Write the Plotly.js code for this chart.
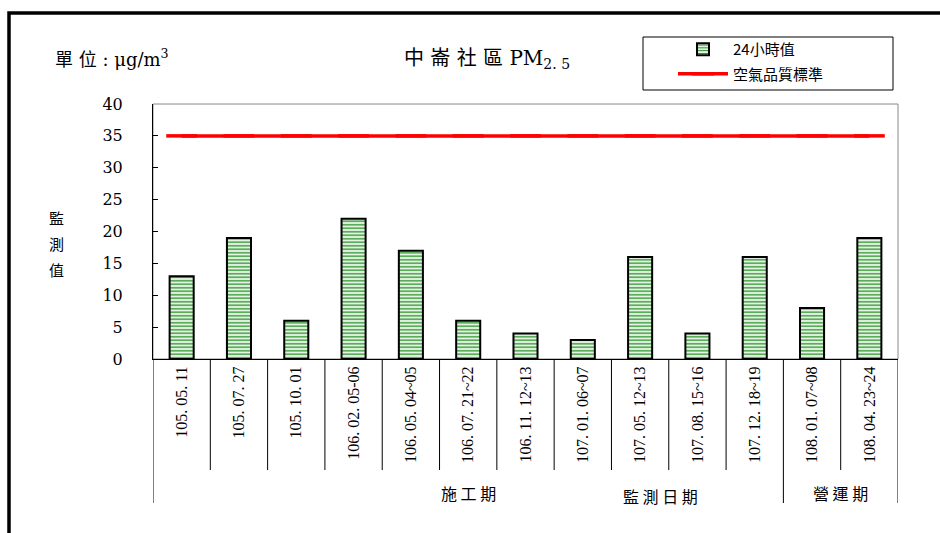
<!DOCTYPE html>
<html><head><meta charset="utf-8">
<script src="https://cdn.plot.ly/plotly-3.0.1.min.js"></script>
<style>html,body{margin:0;padding:0;background:#fff}</style>
</head><body><div id="chart" style="width:940px;height:533px"></div>
<script>
// ---- data ----
const categories = ["105. 05. 11","105. 07. 27","105. 10. 01","106. 02. 05-06","106. 05. 04~05","106. 07. 21~22","106. 11. 12~13","107. 01. 06~07","107. 05. 12~13","107. 08. 15~16","107. 12. 18~19","108. 01. 07~08","108. 04. 23~24"];
const pm25 = [13,19,6,22,17,6,4,3,16,4,16,8,19];
const standard = [35,35,35,35,35,35,35,35,35,35,35,35,35];
const phases = ["施工期","施工期","施工期","施工期","施工期","施工期","施工期","施工期","施工期","施工期","施工期","營運期","營運期"];
const yTicks = [0,5,10,15,20,25,30,35,40];
const seriesNames = ["24小時值","空氣品質標準"];

// ---- layout helpers ----
const L = 153, R = 42, T = 104, B = 174, WW = 940, HH = 533;
const PW = WW - L - R, PH = HH - T - B;
const fx = px => (px - L) / PW;
const fy = py => (HH - B - py) / PH;
const cjk = "'Noto Sans CJK TC', sans-serif";
const serif = "'DejaVu Serif', 'Noto Sans CJK TC', serif";

const shapes = [];
// outer frame
shapes.push({type:'rect', xref:'paper', yref:'paper', x0:fx(9), x1:fx(990), y0:fy(600), y1:fy(13),
  line:{color:'black', width:3.5}});
// plot area border (top / right)
shapes.push({type:'rect', xref:'paper', yref:'paper', x0:0, x1:1, y0:0, y1:1, line:{color:'#888', width:1}, layer:'below'});
// category separators and phase separators
for (let i = 0; i <= categories.length; i++) {
  const isPhaseEdge = (i === 0 || i === categories.length || phases[i] !== phases[i-1]);
  shapes.push({type:'line', xref:'x', yref:'paper', x0:i-0.5, x1:i-0.5, y0:0, y1:fy(isPhaseEdge ? 503 : 470),
    line:{color:'black', width:1}});
}

const annotations = [];
annotations.push({xref:'paper', yref:'paper', x:fx(53), y:fy(58), xanchor:'left', yanchor:'middle', showarrow:false,
  text:'單 位 : μg/m<sup>3</sup>', font:{family:serif, size:18, color:'black'}});
["監","測","值"].forEach((c, k) => annotations.push({xref:'paper', yref:'paper', x:fx(57), y:fy(217 + 26*k),
  xanchor:'center', yanchor:'middle', showarrow:false, text:c, font:{family:cjk, size:15, color:'black'}}));
// phase group labels
const groups = [];
phases.forEach((p, i) => {
  if (!groups.length || groups[groups.length-1].name !== p) groups.push({name:p, start:i, end:i});
  else groups[groups.length-1].end = i;
});
groups.forEach(g => annotations.push({xref:'x', yref:'paper', x:(g.start + g.end) / 2, y:fy(493), xanchor:'center', yanchor:'middle',
  showarrow:false, text:g.name.split('').join(' '), font:{family:cjk, size:16, color:'black'}}));
annotations.push({xref:'paper', yref:'paper', x:fx(660), y:fy(496), xanchor:'center', yanchor:'middle', showarrow:false,
  text:'監 測 日 期', font:{family:cjk, size:16, color:'black'}});

// legend box
shapes.push({type:'rect', xref:'paper', yref:'paper', x0:fx(643), x1:fx(893), y0:fy(90), y1:fy(37), line:{color:'black', width:1}, fillcolor:'white', layer:'below'});

const traces = [
  {type:'bar', x:categories, y:pm25, name:seriesNames[0], width:0.42, legendgroup:'a',
   marker:{color:'#d9efd9', line:{color:'black', width:2},
     pattern:{shape:'-', fgcolor:'#1f8f1f', bgcolor:'#e4f3e4', size:3.5, solidity:0.35}},
   hoverinfo:'skip'},
  {type:'scatter', mode:'lines+markers', x:categories, y:standard, name:seriesNames[1], legendgroup:'b',
   line:{color:'#ff0000', width:3.5},
   marker:{symbol:'line-ew', size:22, color:'#ff0000', line:{color:'#ff0000', width:3.5}},
   hoverinfo:'skip'}
];

const layout = {
  width:WW, height:HH,
  margin:{l:L, r:R, t:T, b:B, pad:0},
  paper_bgcolor:'white', plot_bgcolor:'white',
  showlegend:true,
  legend:{x:fx(673), y:fy(33), xanchor:'left', yanchor:'top', borderwidth:0, bgcolor:'rgba(0,0,0,0)',
    font:{family:cjk, size:15, color:'black'}, traceorder:'grouped', tracegroupgap:2, itemwidth:50},
  title:{text:'中 崙 社 區 PM<sub>2. 5</sub>', x:487/WW, xref:'container', y:1 - 58/HH, yref:'container', xanchor:'center', yanchor:'middle',
    font:{family:serif, size:20, color:'black'}},
  xaxis:{type:'category', categoryarray:categories, range:[-0.5, categories.length - 0.5], tickangle:-90,
    ticks:'', showline:true, linecolor:'black', linewidth:1, showgrid:false, zeroline:false,
    tickfont:{family:"'Liberation Serif', serif", size:16, color:'black'}, fixedrange:true},
  yaxis:{range:[0,40], tickvals:yTicks, ticktext:yTicks.map(String), ticks:'inside', ticklen:5, tickcolor:'black',
    showline:true, linecolor:'black', linewidth:1, showgrid:false, zeroline:false, ticklabelstandoff:26,
    tickfont:{family:"'DejaVu Serif', serif", size:16, color:'black'}, fixedrange:true},
  shapes:shapes, annotations:annotations, bargap:0.5
};
Plotly.newPlot('chart', traces, layout, {displayModeBar:false, staticPlot:true});
</script></body></html>
